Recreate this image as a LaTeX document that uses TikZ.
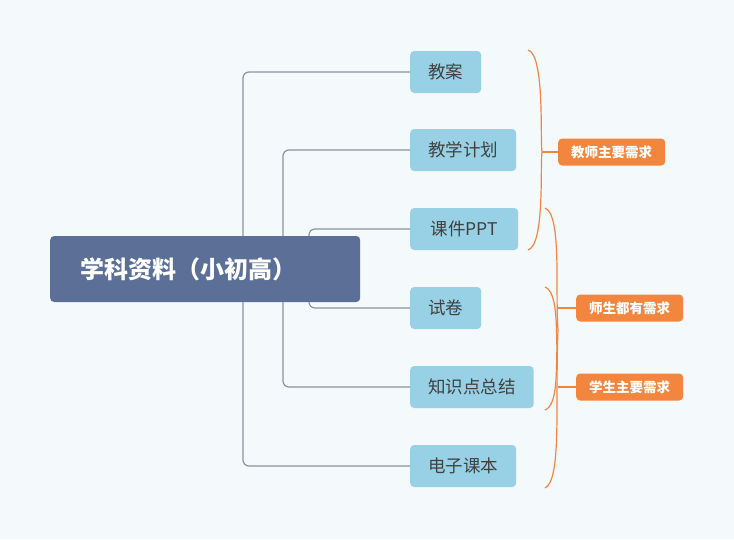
\documentclass[tikz,border=0pt]{standalone}
\usepackage{fontspec}
\setmainfont{Noto Sans CJK SC}
\definecolor{bgcol}{HTML}{F4F9FB}
\definecolor{rootcol}{HTML}{5B6F97}
\definecolor{leafcol}{HTML}{98D1E5}
\definecolor{linecol}{HTML}{8C939C}
\definecolor{tagcol}{HTML}{F3863F}
\tikzset{
    rootnode/.style={
        rectangle,
        rounded corners=4pt,
        fill=rootcol, % 根节点
        text=white,
        anchor=west,
        minimum width=310pt,
        minimum height=66pt,
        inner xsep=30pt,
        text width=250pt,
        align=left,
        font=\fontsize{24}{26}\selectfont\bfseries
    },
    leafnode/.style={
        rectangle,
        rounded corners=4pt,
        fill=leafcol,
        text=black!75,
        anchor=west,
        minimum height=42pt,
        inner xsep=18pt,
        font=\fontsize{17.5}{19}\selectfont
    },
    tagnode/.style={
        rectangle,
        rounded corners=4pt,
        fill=tagcol,
        text=white,
        anchor=west,
        minimum height=27pt,
        minimum width=107pt,
        font=\fontsize{13.5}{15}\selectfont\bfseries
    },
    branch/.style={draw=linecol, line width=1.2pt, rounded corners=6pt},
    bracket/.style={draw=tagcol, line width=1.2pt}
}
\begin{document}
\begin{tikzpicture}[x=1pt, y=-1pt]
    \fill[bgcol] (0,0) rectangle (734,539);
    \useasboundingbox (0,0) rectangle (734,539);
    % 根节点
    \node[rootnode] (root) at (50,269) {学科资料（小初高）};
    % 子节点
    \node[leafnode] (jiaoan) at (410,72) {教案};
    \node[leafnode] (jihua) at (410,150) {教学计划};
    \node[leafnode, inner xsep=4pt, minimum width=108pt] (ppt) at (410,229) {课件PPT};
    \node[leafnode] (shijuan) at (410,308) {试卷};
    \node[leafnode] (zongjie) at (410,387) {知识点总结};
    \node[leafnode] (keben) at (410,466) {电子课本};
    % 连线
    \draw[branch] (root.north west -| 243,0) |- (jiaoan.west);
    \draw[branch] (root.south west -| 243,0) |- (keben.west);
    \draw[branch] (root.north west -| 283,0) |- (jihua.west);
    \draw[branch] (root.south west -| 283,0) |- (zongjie.west);
    \draw[branch] (root.north west -| 309,0) |- (ppt.west);
    \draw[branch] (root.south west -| 309,0) |- (shijuan.west);
    % 需求标签
    \node[tagnode] (teacher) at (558,152) {教师主要需求};
    \node[tagnode] (both) at (576,308) {师生都有需求};
    \node[tagnode] (student) at (576,387) {学生主要需求};
    % 括号
    \draw[bracket] (528,50) .. controls (545,55) and (540,140) .. (542,152)
                   .. controls (540,165) and (545,245) .. (528,250);
    \coordinate (t1) at (542,152);
    \draw[bracket] (t1) -- (teacher.west);
    \draw[bracket] (545,208) .. controls (562,215) and (555,290) .. (558,330)
                   .. controls (555,400) and (562,480) .. (545,488);
    \draw[bracket] (545,287) .. controls (558,292) and (556,330) .. (557,348)
                   .. controls (556,370) and (558,405) .. (545,410);
    \coordinate (t2) at (558,308);
    \coordinate (t3) at (558,387);
    \draw[bracket] (t2) -- (both.west);
    \draw[bracket] (t3) -- (student.west);
\end{tikzpicture}
\end{document}
